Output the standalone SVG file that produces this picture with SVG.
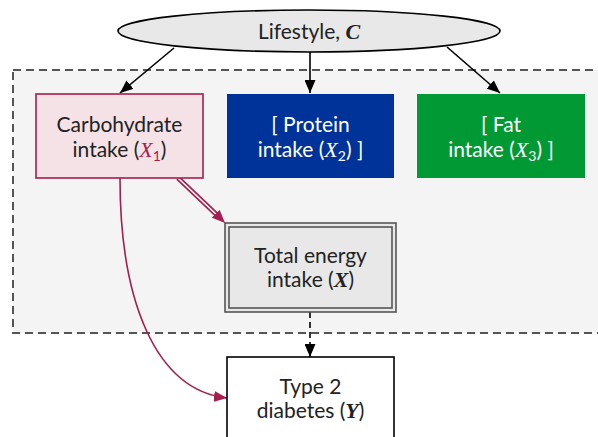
<svg xmlns="http://www.w3.org/2000/svg" width="598" height="437" viewBox="0 0 598 437">
  <style>
    .lbl { font-family: Lato, "Open Sans", "Liberation Sans", sans-serif; font-size: 21px; text-anchor: middle; fill: #222; }
    .wht { fill: #ffffff; }
    .m { font-family: "Liberation Serif", "DejaVu Serif", serif; font-style: italic; font-size: 22px; }
    .mb { font-family: "Liberation Serif", "DejaVu Serif", serif; font-style: italic; font-weight: bold; font-size: 22px; }
    .sub { font-size: 14px; }
    .crim { fill: #a31f4f; }
    .edge { fill: none; stroke: #000; stroke-width: 1.6; }
  </style>
  <defs>
    <marker id="ah" viewBox="0 0 13 11" refX="13" refY="5.5" markerWidth="13" markerHeight="11" markerUnits="userSpaceOnUse" orient="auto">
      <path d="M0,0 L13,5.5 L0,11 Z" fill="#000"/>
    </marker>
    <marker id="ahc" viewBox="0 0 13 11" refX="13" refY="5.5" markerWidth="13" markerHeight="11" markerUnits="userSpaceOnUse" orient="auto">
      <path d="M0,0 L13,5.5 L0,11 Z" fill="#a31f4f"/>
    </marker>
  </defs>

  <rect width="598" height="437" fill="#ffffff"/>

  <!-- shaded region of the intake variables -->
  <rect id="region" x="13" y="70" width="600" height="263" fill="#f4f4f4" stroke="#555" stroke-width="2" stroke-dasharray="8,5"/>

  <g id="connectors">
    <line class="edge" x1="174" y1="48" x2="120" y2="93" marker-end="url(#ah)"/>
    <line class="edge" x1="310" y1="52" x2="310" y2="93" marker-end="url(#ah)"/>
    <line class="edge" x1="447" y1="47" x2="500" y2="93" marker-end="url(#ah)"/>
    <!-- double line: carbohydrate to total energy -->
    <line x1="178" y1="178" x2="218" y2="216" stroke="#a31f4f" stroke-width="5"/>
    <line x1="178" y1="178" x2="219" y2="217" stroke="#ffffff" stroke-width="1.6"/>
    <path d="M216,214 L225,223" fill="none" stroke="#a31f4f" stroke-width="1" marker-end="url(#ahc)"/>
    <!-- direct path: carbohydrate to diabetes -->
    <path d="M120,178 C120,300 155,390 227,398" fill="none" stroke="#a31f4f" stroke-width="1.6" marker-end="url(#ahc)"/>
    <!-- dashed: total energy to diabetes -->
    <line class="edge" x1="310" y1="312" x2="310" y2="357" stroke-dasharray="6,4" marker-end="url(#ah)"/>
  </g>

  <g id="lifestyle">
    <ellipse cx="309" cy="31" rx="191" ry="21" fill="#e8e8e8" stroke="#000" stroke-width="1.6"/>
    <text class="lbl" x="309" y="39">Lifestyle, <tspan class="mb">C</tspan></text>
  </g>

  <g id="carbohydrate">
    <rect x="36" y="94" width="167" height="84" fill="#f4e2e7" stroke="#a31f4f" stroke-width="1.6"/>
    <text class="lbl" x="119.5" y="132">Carbohydrate</text>
    <text class="lbl" x="119.5" y="157">intake (<tspan class="m crim">X</tspan><tspan class="sub crim" dy="4">1</tspan><tspan dy="-4">)</tspan></text>
  </g>

  <g id="protein">
    <rect x="227" y="94" width="167" height="84" fill="#003399"/>
    <text class="lbl wht" x="310.5" y="132">[ Protein</text>
    <text class="lbl wht" x="310.5" y="157">intake (<tspan class="m">X</tspan><tspan class="sub" dy="4">2</tspan><tspan dy="-4">) ]</tspan></text>
  </g>

  <g id="fat">
    <rect x="417" y="94" width="168" height="84" fill="#009933"/>
    <text class="lbl wht" x="501" y="132">[ Fat</text>
    <text class="lbl wht" x="501" y="157">intake (<tspan class="m">X</tspan><tspan class="sub" dy="4">3</tspan><tspan dy="-4">) ]</tspan></text>
  </g>

  <g id="total-energy">
    <rect x="225" y="223" width="171" height="89" fill="#e8e8e8" stroke="#555" stroke-width="1.6"/>
    <rect x="229" y="227" width="163" height="81" fill="none" stroke="#555" stroke-width="1.6"/>
    <text class="lbl" x="310.5" y="263">Total energy</text>
    <text class="lbl" x="310.5" y="287">intake (<tspan class="mb">X</tspan>)</text>
  </g>

  <g id="diabetes">
    <rect x="227" y="357" width="167" height="90" fill="#ffffff" stroke="#000" stroke-width="1.6"/>
    <text class="lbl" x="310.5" y="394">Type 2</text>
    <text class="lbl" x="310.5" y="418">diabetes (<tspan class="mb">Y</tspan>)</text>
  </g>
</svg>
